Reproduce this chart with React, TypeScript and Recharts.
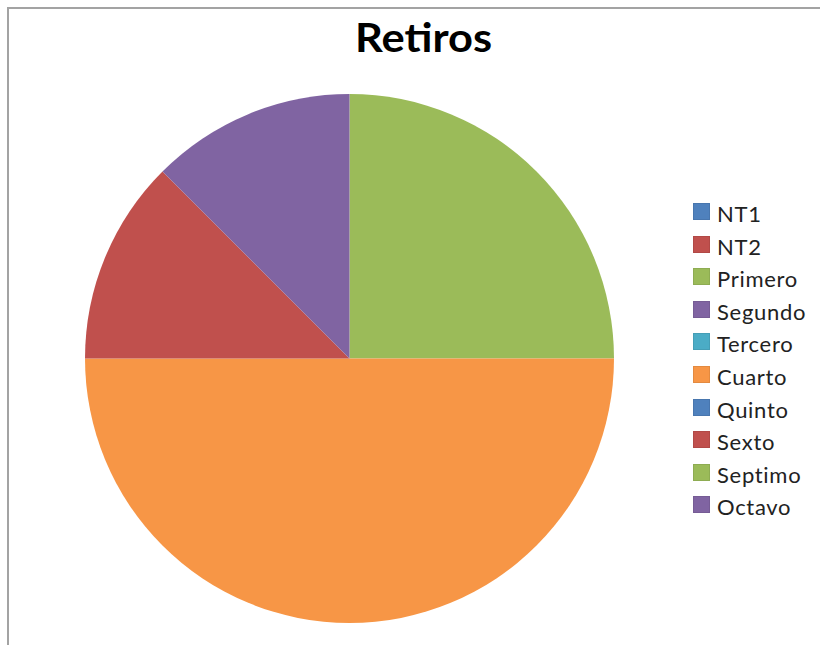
import React from "react";
import { PieChart, Pie, Cell, Legend } from "recharts";

const categories = ["NT1", "NT2", "Primero", "Segundo", "Tercero", "Cuarto", "Quinto", "Sexto", "Septimo", "Octavo"];
const values = [0, 0, 2, 0, 0, 4, 0, 1, 0, 1];
const colors = ["#4F81BD", "#C0504D", "#9BBB59", "#8064A2", "#4BACC6", "#F79646", "#4F81BD", "#C0504D", "#9BBB59", "#8064A2"];
const title = "Retiros";

const data = categories.map((name, i) => ({ name, value: values[i] }));

const LegendContent = () => (
  <div style={{ position: "relative", width: 130, height: 330 }}>
    {categories.map((name, i) => (
      <div
        key={name}
        style={{
          position: "absolute",
          left: 0,
          top: i * 32.6,
          height: 17,
          display: "flex",
          alignItems: "center",
          whiteSpace: "nowrap",
        }}
      >
        <div style={{ width: 17, height: 17, background: colors[i], boxSizing: "border-box", border: "1px solid rgba(0,0,0,0.08)" }} />
        <span
          style={{
            marginLeft: 7,
            fontFamily: "Lato, 'Open Sans', sans-serif",
            fontSize: 22,
            letterSpacing: 0.7,
            color: "#222",
            lineHeight: "17px",
            position: "relative",
            top: 2,
          }}
        >
          {name}
        </span>
      </div>
    ))}
  </div>
);

export default function App() {
  return (
    <>
      <style>{"html,body{margin:0;padding:0;overflow:hidden;}"}</style>
      <div
        style={{
          position: "absolute",
          left: 7,
          top: 7,
          width: 811,
          height: 636,
          borderTop: "2px solid #a3a3a3",
          borderLeft: "2px solid #a3a3a3",
          background: "#fff",
          overflow: "hidden",
        }}
      >
        <svg
          width={811}
          height={80}
          style={{ position: "absolute", left: 0, top: 0, pointerEvents: "none" }}
        >
          <text
            x={423.5 - 9}
            y={52 - 9}
            textAnchor="middle"
            fontFamily="Lato, 'Open Sans', sans-serif"
            fontWeight="bold"
            fontSize={40}
            textLength={137}
            lengthAdjust="spacingAndGlyphs"
            fill="#000"
          >
            {title}
          </text>
        </svg>
        <PieChart width={811} height={636} style={{ position: "absolute", left: 0, top: 0 }}>
          <Pie
            data={data}
            dataKey="value"
            nameKey="name"
            cx={335.5}
            cy={344.5}
            outerRadius={264.5}
            startAngle={90}
            endAngle={-270}
            stroke="none"
            isAnimationActive={false}
          >
            {data.map((d, i) => (
              <Cell key={d.name} fill={colors[i]} />
            ))}
          </Pie>
          <Legend
            layout="vertical"
            content={<LegendContent />}
            wrapperStyle={{ position: "absolute", left: 684, top: 194, width: 130, height: 330 }}
          />
        </PieChart>
      </div>
    </>
  );
}
